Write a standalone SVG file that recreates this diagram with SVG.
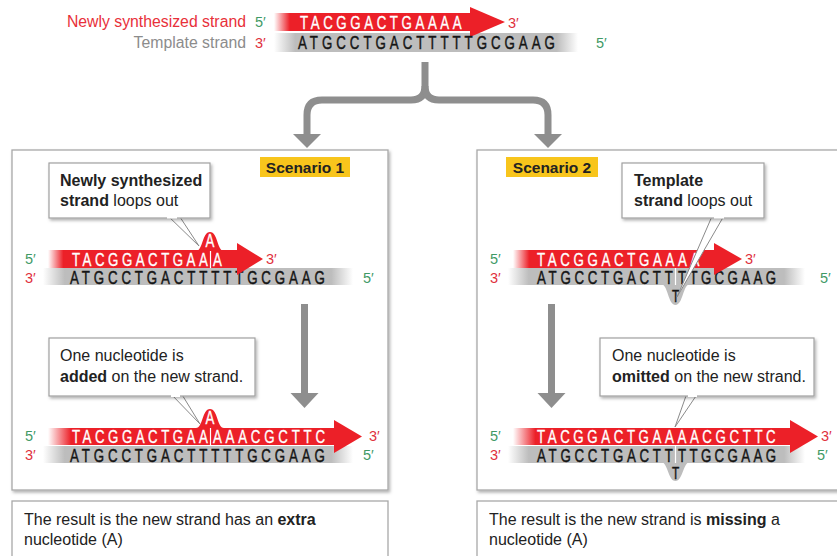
<svg xmlns="http://www.w3.org/2000/svg" width="837" height="556" viewBox="0 0 837 556">
<defs>
<style>
.lbl{font-family:"Liberation Sans",Arial,sans-serif;font-size:15.8px}
.p5{font-family:"Liberation Sans",Arial,sans-serif;font-size:14.5px;fill:#3f9a66}
.p3{font-family:"Liberation Sans",Arial,sans-serif;font-size:14.5px;fill:#e0303c}
.dna{font-family:"Liberation Sans",Arial,sans-serif;font-size:19px}
.w{fill:#fff;stroke:#fff;stroke-width:0.35}
.k{fill:#151515;stroke:#151515;stroke-width:0.45}
.txt{font-family:"Liberation Sans",Arial,sans-serif;font-size:16px;fill:#222}
.b{font-weight:bold}
.panel{fill:#fff;stroke:#a8a8a8;stroke-width:1.3}
.callout{fill:#fff;stroke:#a0a0a0;stroke-width:1.2}
.ptr{fill:#fff;stroke:#8a8a8a;stroke-width:1}
.conn{fill:none;stroke:#8e8e8e;stroke-width:7}
.head{fill:#8e8e8e}
.tag{fill:#f8c51c}
.div{stroke:#fff;stroke-width:1.2}
.loop{fill:#bdbdbd}
</style>
<linearGradient id="gRed" x1="0" y1="0" x2="1" y2="0">
<stop offset="0" stop-color="#ec2028" stop-opacity="0"/>
<stop offset="0.08" stop-color="#ec2028" stop-opacity="1"/>
<stop offset="1" stop-color="#ec2028" stop-opacity="1"/>
</linearGradient>
<linearGradient id="gGray" x1="0" y1="0" x2="1" y2="0">
<stop offset="0" stop-color="#bdbdbd" stop-opacity="0"/>
<stop offset="0.07" stop-color="#bdbdbd" stop-opacity="1"/>
<stop offset="0.93" stop-color="#bdbdbd" stop-opacity="1"/>
<stop offset="1" stop-color="#bdbdbd" stop-opacity="0"/>
</linearGradient>
<filter id="sh" x="-10%" y="-10%" width="130%" height="130%">
<feDropShadow dx="1.5" dy="2" stdDeviation="1.5" flood-color="#000" flood-opacity="0.3"/>
</filter>
</defs>
<rect width="837" height="556" fill="#fff"/>

<g id="top-strands">
<text class="lbl" x="246" y="27" text-anchor="end" fill="#e8303a">Newly synthesized strand</text>
<text class="p5" x="255" y="27">5′</text>
<text class="lbl" x="246" y="48" text-anchor="end" fill="#8c8c8c">Template strand</text>
<text class="p3" x="255" y="48">3′</text>
<rect x="274" y="33" width="304" height="19" fill="url(#gGray)"/>
<rect x="274" y="13" width="198" height="18" fill="url(#gRed)"/>
<polygon points="470,7 505,22 470,37" fill="#ec2028"/>
<g transform="translate(300,28.5) scale(0.7,1)"><text class="dna w" textLength="231" lengthAdjust="spacing">TACGGACTGAAAA</text></g>
<text class="p3" x="508" y="28">3′</text>
<g transform="translate(298,49) scale(0.7,1)"><text class="dna k" textLength="367" lengthAdjust="spacing">ATGCCTGACTTTTTGCGAAG</text></g>
<text class="p5" x="596" y="48">5′</text>
</g>

<g id="panel1">
<rect class="panel" x="12" y="150" width="376" height="340" filter="url(#sh)"/>
<rect class="tag" x="260" y="157" width="90" height="20"/>
<text class="txt b" x="305" y="172.5" text-anchor="middle" style="font-size:15.5px">Scenario 1</text>
<!-- top strands -->
<text class="p5" x="25" y="264">5′</text>
<text class="p3" x="25" y="283">3′</text>
<rect x="43" y="268" width="310" height="17" fill="url(#gGray)"/>
<g transform="translate(70,283.5) scale(0.7,1)"><text class="dna k" textLength="364" lengthAdjust="spacing">ATGCCTGACTTTTTGCGAAG</text></g>
<rect x="48" y="250" width="192" height="18" fill="url(#gRed)"/>
<path d="M196,251 C203,251 202,232 210,232 C218,232 217,251 224,251 Z" fill="#ec2028"/>
<polygon points="237,243 263,259 237,275" fill="#ec2028"/>
<g transform="translate(72,265.5) scale(0.7,1)"><text class="dna w" textLength="194" lengthAdjust="spacing">TACGGACTGAA</text></g>
<line class="div" x1="210.5" y1="251" x2="210.5" y2="268"/>
<g transform="translate(213,265.5) scale(0.7,1)"><text class="dna w">A</text></g>
<g transform="translate(210,246.5) scale(0.7,1)"><text class="dna w" text-anchor="middle">A</text></g>
<text class="p3" x="266" y="264">3′</text>
<text class="p5" x="363" y="283">5′</text>
<!-- callout 1 -->
<path class="ptr" d="M166,214 L199,246 L178,214"/>
<rect class="callout" x="49" y="163" width="161" height="55" filter="url(#sh)"/>
<path d="M167,217.5 L177,217.5" stroke="#fff" stroke-width="2"/>
<text class="txt" x="60" y="186"><tspan class="b">Newly synthesized</tspan></text>
<text class="txt" x="60" y="206"><tspan class="b">strand</tspan> loops out</text>
<!-- bottom strands -->
<text class="p5" x="25" y="441">5′</text>
<text class="p3" x="25" y="460">3′</text>
<rect x="43" y="446" width="310" height="17" fill="url(#gGray)"/>
<g transform="translate(70,461.5) scale(0.7,1)"><text class="dna k" textLength="364" lengthAdjust="spacing">ATGCCTGACTTTTTGCGAAG</text></g>
<rect x="48" y="428" width="288" height="17" fill="url(#gRed)"/>
<path d="M196,428 C203,428 202,409 210,409 C218,409 217,428 224,428 Z" fill="#ec2028"/>
<polygon points="334,420 362,436.5 334,453" fill="#ec2028"/>
<g transform="translate(72,442.5) scale(0.7,1)"><text class="dna w" textLength="194" lengthAdjust="spacing">TACGGACTGAA</text></g>
<line class="div" x1="210.5" y1="428" x2="210.5" y2="445"/>
<g transform="translate(213,442.5) scale(0.7,1)"><text class="dna w" textLength="160" lengthAdjust="spacing">AAACGCTTC</text></g>
<g transform="translate(210,423.5) scale(0.7,1)"><text class="dna w" text-anchor="middle">A</text></g>
<text class="p3" x="369" y="441">3′</text>
<text class="p5" x="363" y="460">5′</text>
<!-- callout 3 -->
<path class="ptr" d="M170,393 L200,424 L181,393"/>
<rect class="callout" x="49" y="338" width="206" height="58" filter="url(#sh)"/>
<path d="M171,396 L180,396" stroke="#fff" stroke-width="2"/>
<text class="txt" x="60" y="361">One nucleotide is</text>
<text class="txt" x="60" y="382"><tspan class="b">added</tspan> on the new strand.</text>
</g>

<g id="panel2">
<rect class="panel" x="477" y="150" width="372" height="340" filter="url(#sh)"/>
<rect class="tag" x="506" y="157" width="92" height="20"/>
<text class="txt b" x="552" y="172.5" text-anchor="middle" style="font-size:15.5px">Scenario 2</text>
<!-- top strands -->
<text class="p5" x="490" y="264">5′</text>
<text class="p3" x="490" y="283">3′</text>
<path class="loop" d="M661,284 C668,284 668,305 675.5,305 C683,305 683,284 690,284 Z"/>
<rect x="508" y="268" width="297" height="17" fill="url(#gGray)"/>
<g transform="translate(537,283.5) scale(0.7,1)"><text class="dna k" textLength="194" lengthAdjust="spacing">ATGCCTGACTT</text></g>
<line class="div" x1="675.5" y1="268" x2="675.5" y2="285"/>
<g transform="translate(678,283.5) scale(0.7,1)"><text class="dna k" textLength="140" lengthAdjust="spacing">TTGCGAAG</text></g>
<g transform="translate(675.5,302) scale(0.7,1)"><text class="dna k" text-anchor="middle" style="font-size:17px">T</text></g>
<rect x="513" y="250" width="203" height="18" fill="url(#gRed)"/>
<polygon points="714,243 742,259 714,275" fill="#ec2028"/>
<g transform="translate(537,265.5) scale(0.7,1)"><text class="dna w" textLength="232" lengthAdjust="spacing">TACGGACTGAAAA</text></g>
<text class="p3" x="745" y="264">3′</text>
<text class="p5" x="820" y="283">5′</text>
<!-- callout 2 -->
<path class="ptr" d="M713,214 L677,297 L725,214"/>
<rect class="callout" x="622" y="163" width="142" height="55" filter="url(#sh)"/>
<path d="M714,217.5 L724,217.5" stroke="#fff" stroke-width="2"/>
<text class="txt" x="634" y="186"><tspan class="b">Template</tspan></text>
<text class="txt" x="634" y="206"><tspan class="b">strand</tspan> loops out</text>
<!-- bottom strands -->
<text class="p5" x="490" y="441">5′</text>
<text class="p3" x="490" y="460">3′</text>
<path class="loop" d="M661,462 C668,462 668,481 675.5,481 C683,481 683,462 690,462 Z"/>
<rect x="508" y="446" width="297" height="17" fill="url(#gGray)"/>
<g transform="translate(537,461.5) scale(0.7,1)"><text class="dna k" textLength="194" lengthAdjust="spacing">ATGCCTGACTT</text></g>
<line class="div" x1="675.5" y1="446" x2="675.5" y2="463"/>
<g transform="translate(678,461.5) scale(0.7,1)"><text class="dna k" textLength="140" lengthAdjust="spacing">TTGCGAAG</text></g>
<g transform="translate(675.5,479) scale(0.7,1)"><text class="dna k" text-anchor="middle" style="font-size:17px">T</text></g>
<rect x="513" y="428" width="280" height="17" fill="url(#gRed)"/>
<polygon points="790,420 818,436.5 790,453" fill="#ec2028"/>
<g transform="translate(537,442.5) scale(0.7,1)"><text class="dna w" textLength="341" lengthAdjust="spacing">TACGGACTGAAAACGCTTC</text></g>
<text class="p3" x="821" y="441">3′</text>
<text class="p5" x="817" y="460">5′</text>
<!-- callout 4 -->
<path class="ptr" d="M687,393 L675,427 L698,393"/>
<rect class="callout" x="600" y="338" width="214" height="58" filter="url(#sh)"/>
<path d="M688,396 L697,396" stroke="#fff" stroke-width="2"/>
<text class="txt" x="612" y="361">One nucleotide is</text>
<text class="txt" x="612" y="382"><tspan class="b">omitted</tspan> on the new strand.</text>
</g>

<g id="result1">
<rect class="panel" x="12" y="501" width="376" height="70"/>
<text class="txt" x="24" y="525">The result is the new strand has an <tspan class="b">extra</tspan></text>
<text class="txt" x="24" y="545">nucleotide (A)</text>
</g>

<g id="result2">
<rect class="panel" x="477" y="501" width="372" height="70"/>
<text class="txt" x="489" y="525">The result is the new strand is <tspan class="b">missing</tspan> a</text>
<text class="txt" x="489" y="545">nucleotide (A)</text>
</g>

<g id="connectors">
<path class="conn" d="M425,62 V86 Q425,100 411,100 H322 Q307,100 307,115 V136"/>
<path class="conn" d="M425,86 Q425,100 439,100 H533 Q548,100 548,115 V136"/>
<polygon class="head" points="293,134 321,134 307,148"/>
<polygon class="head" points="534,134 562,134 548,148"/>
<rect class="head" x="301" y="304" width="7" height="91"/>
<polygon class="head" points="290.5,393 318.5,393 304.5,408"/>
<rect class="head" x="548" y="304" width="7" height="91"/>
<polygon class="head" points="537.5,393 565.5,393 551.5,408"/>
</g>
</svg>
